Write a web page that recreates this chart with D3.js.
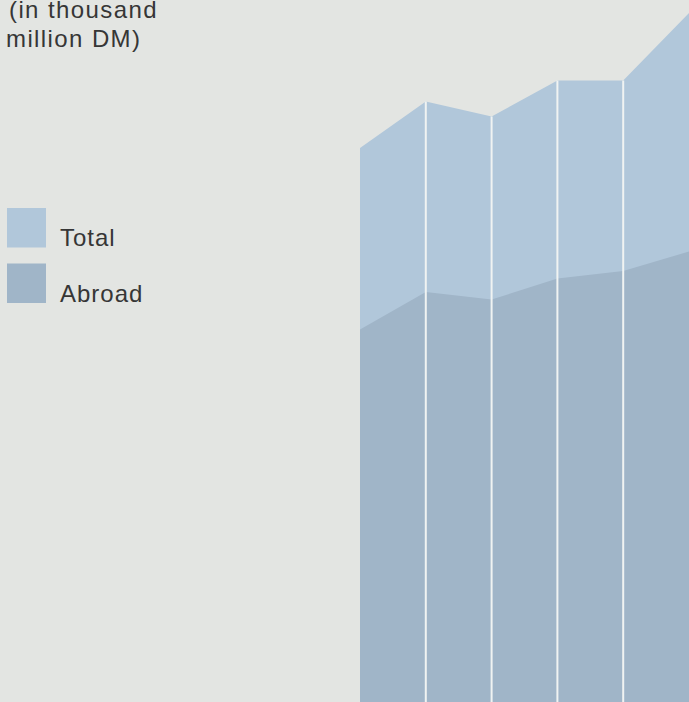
<!DOCTYPE html>
<html>
<head>
<meta charset="utf-8">
<script src="https://cdn.jsdelivr.net/npm/d3@7"></script>
<style>
  html, body { margin: 0; padding: 0; background: #e3e5e2; }
  svg { display: block; }
  text { font-family: "Liberation Sans", Arial, Helvetica, sans-serif; fill: #363636; }
</style>
</head>
<body>
<svg id="chart" width="689" height="702"></svg>
<script>
// Boundary points of the five columns (values in thousand million DM)
const points = [0, 1, 2, 3, 4, 5];
const totalValues  = [46.8, 49.9, 48.9, 51.3, 51.3, 55.8];
const abroadValues = [34.7, 37.2, 36.7, 38.1, 38.6, 39.9];
const unitLines = ["(in thousand", "million DM)"];
const legendItems = ["Total", "Abroad"];

const W = 689, H = 702;
const svg = d3.select("#chart");

svg.append("rect").attr("width", W).attr("height", H).attr("fill", "#e3e5e2");

const x = d3.scaleLinear().domain([0, 5]).range([360, 689]);
const y = d3.scaleLinear().domain([0, 60]).range([850, -50]);

const colors = { Total: "#b1c7da", Abroad: "#a0b5c8" };

const area = d3.area()
  .x((d, i) => x(points[i]))
  .y0(y(0))
  .y1(d => y(d));

svg.append("path")
  .datum(totalValues)
  .attr("d", area)
  .attr("fill", colors.Total);

svg.append("path")
  .datum(abroadValues)
  .attr("d", area)
  .attr("fill", colors.Abroad);

// white separators between columns
svg.selectAll("line.sep")
  .data(points.slice(1, 5))
  .join("line")
  .attr("class", "sep")
  .attr("x1", d => x(d)).attr("x2", d => x(d))
  .attr("y1", d => y(totalValues[d]))
  .attr("y2", H)
  .attr("stroke", "#f0f3f2")
  .attr("stroke-width", 2);

// unit caption
svg.selectAll("text.unit")
  .data(unitLines)
  .join("text")
  .attr("class", "unit")
  .attr("x", (d, i) => i === 0 ? 9 : 6)
  .attr("y", (d, i) => 18 + i * 29)
  .attr("font-size", 24)
  .attr("letter-spacing", 1.4)
  .text(d => d);

// legend
const lg = svg.selectAll("g.legend")
  .data(legendItems)
  .join("g")
  .attr("class", "legend")
  .attr("transform", (d, i) => `translate(7, ${208 + i * 55.5})`);

lg.append("rect")
  .attr("width", 39).attr("height", 39.5)
  .attr("fill", d => colors[d]);

lg.append("text")
  .attr("x", 53)
  .attr("y", 38)
  .attr("font-size", 24)
  .attr("letter-spacing", 1)
  .text(d => d);
</script>
</body>
</html>
